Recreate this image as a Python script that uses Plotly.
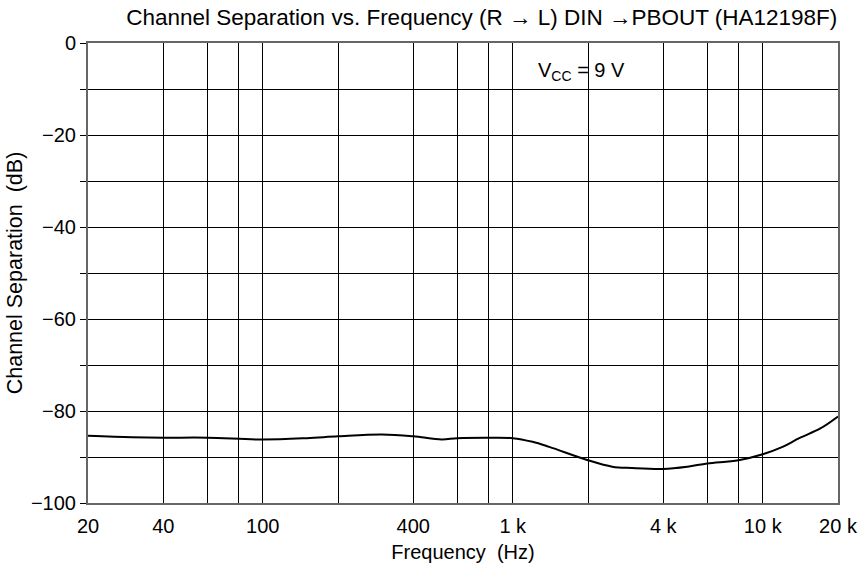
import plotly.graph_objects as go

freq_hz = [20, 30, 40, 60, 100, 150, 200, 300, 400, 520, 600, 800, 1000, 1200, 1400, 2000, 2500, 3000, 4000, 5000, 6000, 8000, 10000, 12000, 14000, 17000, 20000]
sep_db = [-85.4, -85.7, -85.8, -85.8, -86.2, -85.9, -85.5, -85.1, -85.5, -86.2, -85.9, -85.8, -85.9, -86.7, -87.8, -90.7, -92.1, -92.4, -92.6, -92.1, -91.4, -90.7, -89.4, -87.8, -85.9, -83.8, -81.2]

x_tick_vals = [20, 40, 100, 400, 1000, 4000, 10000, 20000]
x_tick_text = ["20", "40", "100", "400", "1 k", "4 k", "10 k", "20 k"]
x_grid_vals = [20, 40, 60, 80, 100, 200, 400, 600, 800, 1000, 2000, 4000, 6000, 8000, 10000, 20000]
y_tick_vals = [0, -20, -40, -60, -80, -100]
y_tick_text = ["0", "\u221220", "\u221240", "\u221260", "\u221280", "\u2212100"]

font = "Liberation Sans, Arial, sans-serif"
nb = "\u00a0"

fig = go.Figure()
fig.add_trace(go.Scatter(x=freq_hz, y=sep_db, mode="lines", line=dict(color="black", width=2, shape="spline", smoothing=1.0), showlegend=False, hoverinfo="skip"))

fig.update_layout(
    width=865, height=574,
    margin=dict(l=88, r=27, t=43, b=71, autoexpand=False),
    paper_bgcolor="white", plot_bgcolor="white",
    font=dict(family=font, size=20, color="black"),
    title=dict(text="Channel Separation vs. Frequency (R \u2192 L) DIN \u2192PBOUT (HA12198F)", x=0.557, xanchor="center", y=1 - 17 / 574, yref="container", yanchor="middle", font=dict(size=22.5)),
    annotations=[dict(text="V<sub>CC</sub> = 9 V", xref="paper", yref="paper", x=0.597, y=0.937, xanchor="left", yanchor="middle", showarrow=False, font=dict(size=20))],
)
fig.update_xaxes(
    type="log", range=[1.30103, 4.30103],
    tickmode="array", tickvals=x_tick_vals, ticktext=x_tick_text,
    showgrid=False, ticks="", ticklen=0, ticklabelstandoff=4,
    minor=dict(tickmode="array", tickvals=x_grid_vals, showgrid=True, gridcolor="black", gridwidth=1, ticks=""),
    showline=True, linecolor="#666666", linewidth=2, mirror=True,
    title=dict(text="Frequency" + nb + nb + "(Hz)", standoff=9, font=dict(size=20)),
    zeroline=False, tickfont=dict(size=20), automargin=False,
)
fig.update_yaxes(
    range=[-100, 0],
    tickmode="array", tickvals=y_tick_vals, ticktext=y_tick_text,
    showgrid=True, gridcolor="black", gridwidth=1,
    ticks="outside", ticklen=6, tickcolor="black",
    minor=dict(dtick=10, tick0=0, showgrid=True, gridcolor="black", gridwidth=1, ticks="outside", ticklen=6, tickcolor="black"),
    showline=True, linecolor="#666666", linewidth=2, mirror=True,
    title=dict(text="Channel Separation" + nb + nb + "(dB)", standoff=2, font=dict(size=21.5)),
    zeroline=False, tickfont=dict(size=20), automargin=False,
)

fig.write_html("out.html", config={"displayModeBar": False}, post_script="document.body.style.margin='0';")
